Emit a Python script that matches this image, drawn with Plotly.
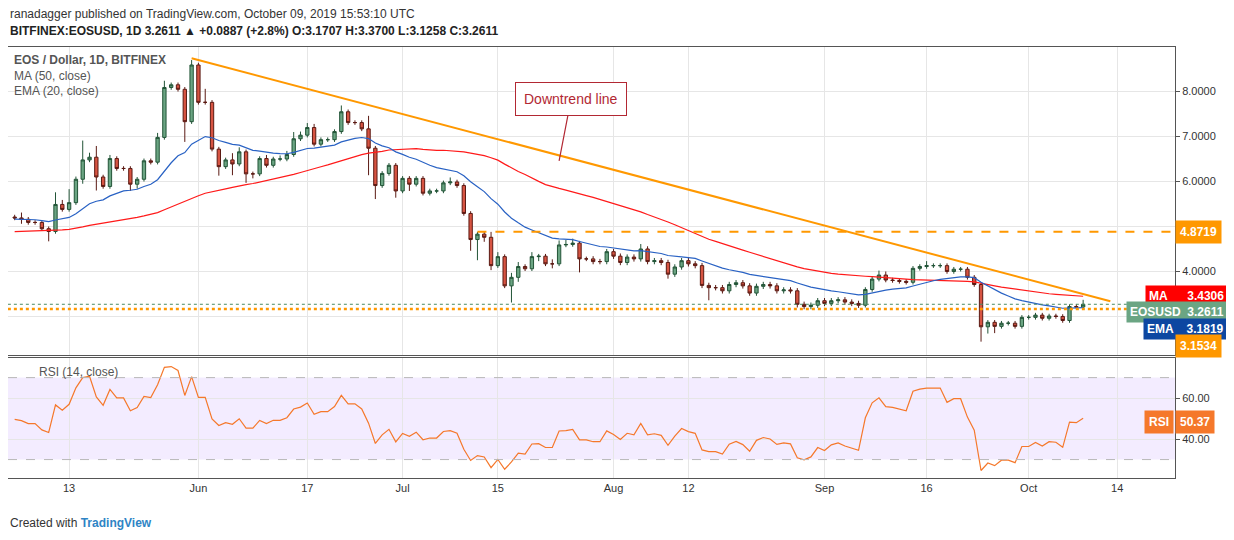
import datetime as dt

import plotly.graph_objects as go
from plotly.subplots import make_subplots

# daily closes, May 5 -> Oct 9 2019
closes = [
    5.18, 5.15, 5.08, 5.08, 4.94, 4.88, 5.48, 5.37, 5.52, 6.04,
    6.47, 6.53, 6.09, 5.88, 6.50, 6.28, 6.28, 5.93, 6.04, 6.45,
    6.42, 6.97, 8.08, 8.14, 8.04, 7.32, 8.58, 7.75, 7.75, 6.71,
    6.32, 6.47, 6.38, 6.65, 6.16, 6.16, 6.50, 6.35, 6.49, 6.49,
    6.59, 6.94, 7.02,
    7.19, 6.82, 6.92, 6.92, 7.10, 7.54, 7.30, 7.30, 7.16, 6.73,
    5.90, 6.17, 6.35, 5.78, 6.06, 5.93, 6.06, 5.73, 5.78, 5.78,
    5.96, 5.98, 5.90, 5.28, 4.70, 4.82, 4.75, 4.12, 4.32, 3.67,
    3.86, 4.10, 4.05, 4.32, 4.33, 4.16, 4.16, 4.58, 4.59, 4.62,
    4.27, 4.27,
    4.21, 4.21, 4.43, 4.33, 4.19, 4.31, 4.27, 4.49, 4.21, 4.23,
    4.19, 3.93, 4.09, 4.23, 4.16, 4.12, 3.68, 3.63, 3.63, 3.56,
    3.70, 3.74, 3.67, 3.51, 3.66, 3.70, 3.67, 3.56, 3.58, 3.56,
    3.26, 3.21, 3.24, 3.34, 3.28, 3.34, 3.36, 3.31, 3.28, 3.24,
    3.59, 3.82, 3.91, 3.80, 3.79, 3.77, 3.75, 4.06, 4.10, 4.12,
    4.12, 4.12, 3.99, 4.04, 4.04, 3.86, 3.70, 2.76, 2.86, 2.77,
    2.84, 2.84, 2.77, 2.97, 2.97, 3.02, 2.95, 3.00, 2.99, 2.90,
    3.21, 3.20, 3.26,
]
first_open = 5.20
upper_wick = [
    .05, .12, .05, .05, .03, .05, .27, .10, .30, .06,
    .43, .10, .25, .05, .08, .05, .05, .05, .05, .05,
    .05, .10, .15, .05, .05, .05, .11, .05, .30, .05,
    .05, .05, .15, .10, .05, .05, .05, .08, .05, .08,
    .08, .15, .08,
    .10, .08, .05, .05, .05, .14, .05, .05, .05, .29,
    .05, .05, .05, .05, .05, .05, .05, .05, .05, .05,
    .05, .10, .05, .05, .05, .05, .05, .12, .10, .05,
    .10, .10, .05, .10, .05, .05, .10, .10, .10, .10,
    .05, .05,
    .06, .06, .06, .06, .06, .06, .06, .11, .06, .06,
    .06, .06, .06, .06, .06, .06, .06, .06, .06, .06,
    .06, .06, .06, .06, .06, .06, .06, .06, .06, .06,
    .06, .06, .06, .06, .06, .06, .06, .06, .06, .06,
    .05, .05, .10, .08, .05, .05, .05, .05, .05, .10,
    .05, .05, .05, .05, .05, .05, .05, .05, .05, .05,
    .05, .05, .05, .05, .05, .05, .05, .05, .05, .05,
    .05, .05, .10,
]
lower_wick = [
    .05, .10, .05, .05, .05, .22, .05, .05, .05, .05,
    .10, .05, .30, .05, .05, .05, .05, .15, .10, .05,
    .05, .05, .05, .05, .05, .45, .05, .05, .05, .05,
    .20, .05, .25, .05, .20, .10, .05, .05, .05, .05,
    .05, .05, .05,
    .05, .05, .05, .05, .05, .05, .05, .05, .05, .60,
    .30, .05, .05, .15, .05, .15, .05, .05, .05, .05,
    .05, .05, .05, .05, .25, .46, .10, .10, .05, .05,
    .37, .10, .05, .05, .10, .05, .10, .05, .05, .05,
    .30, .05,
    .06, .06, .06, .06, .06, .06, .06, .06, .06, .06,
    .06, .10, .06, .06, .06, .06, .06, .28, .06, .06,
    .06, .06, .06, .06, .06, .06, .06, .06, .06, .06,
    .07, .06, .06, .06, .06, .06, .06, .06, .06, .06,
    .05, .05, .05, .05, .05, .05, .05, .05, .05, .05,
    .05, .05, .05, .05, .05, .05, .05, .33, .15, .15,
    .05, .05, .05, .05, .05, .05, .05, .05, .05, .05,
    .05, .05, .05,
]
start_date = dt.date(2019, 5, 5)

ma_seed = 4.87      # MA(50) value at left edge
ema_seed = 5.15     # EMA(20) value at left edge
rsi_seed_gain = 0.10
rsi_seed_loss = 0.10

trend_line_dates = ["2019-05-31", "2019-10-13"]
trend_line_prices = [8.73, 3.33]
resistance_level = 4.8719
support_level = 3.1534
last_price = 3.2611

tick_dates = ["2019-05-13", "2019-06-01", "2019-06-17", "2019-07-01", "2019-07-15",
              "2019-08-01", "2019-08-12", "2019-09-01", "2019-09-16", "2019-10-01",
              "2019-10-14"]
tick_labels = ["13", "Jun", "17", "Jul", "15", "Aug", "12", "Sep", "16", "Oct", "14"]

# ---- derived series ----
dates = [start_date + dt.timedelta(days=i) for i in range(len(closes))]
opens = [first_open] + closes[:-1]
highs = [max(o, c) + w for o, c, w in zip(opens, closes, upper_wick)]
lows = [min(o, c) - w for o, c, w in zip(opens, closes, lower_wick)]

window = [ma_seed] * 49
ma = []
for c in closes:
    window.append(c)
    ma.append(sum(window[-50:]) / 50)

ema = []
prev = ema_seed
for c in closes:
    prev = prev + (c - prev) * 2 / 21
    ema.append(prev)

rsi = []
ag, al = rsi_seed_gain, rsi_seed_loss
prev_c = first_open
for c in closes:
    d = c - prev_c
    ag = (ag * 13 + max(d, 0)) / 14
    al = (al * 13 + max(-d, 0)) / 14
    rsi.append(100 - 100 / (1 + ag / al))
    prev_c = c

fig = make_subplots(rows=2, cols=1, shared_xaxes=True, vertical_spacing=0.007,
                    row_heights=[0.72, 0.28])

fig.add_trace(go.Scatter(x=dates, y=ma, mode="lines", line=dict(color="#ff1a1a", width=1.2),
                         hoverinfo="skip"), row=1, col=1)
fig.add_trace(go.Scatter(x=dates, y=ema, mode="lines", line=dict(color="#2962c4", width=1.2),
                         hoverinfo="skip"), row=1, col=1)
fig.add_trace(go.Candlestick(
    x=dates, open=opens, high=highs, low=lows, close=closes,
    increasing=dict(line=dict(color="#225437", width=1), fillcolor="#6ba583"),
    decreasing=dict(line=dict(color="#5b1a13", width=1), fillcolor="#d75442"),
    whiskerwidth=0,
), row=1, col=1)
fig.add_trace(go.Scatter(x=trend_line_dates, y=trend_line_prices, mode="lines",
                         line=dict(color="#ff9800", width=2), hoverinfo="skip"), row=1, col=1)
fig.add_trace(go.Scatter(x=[dt.date(2019, 7, 12), dt.date(2019, 10, 23)],
                         y=[resistance_level] * 2, mode="lines",
                         line=dict(color="#ff9800", width=2, dash="dash"), hoverinfo="skip"),
              row=1, col=1)
fig.add_trace(go.Scatter(x=[dt.date(2019, 5, 4), dt.date(2019, 10, 23)],
                         y=[support_level] * 2, mode="lines",
                         line=dict(color="#ff9800", width=2.5, dash="dot"), hoverinfo="skip"),
              row=1, col=1)
fig.add_trace(go.Scatter(x=[dt.date(2019, 5, 4), dt.date(2019, 10, 23)],
                         y=[last_price] * 2, mode="lines",
                         line=dict(color="#4a8a63", width=1, dash="dot"), hoverinfo="skip"),
              row=1, col=1)

fig.add_trace(go.Scatter(x=dates, y=rsi, mode="lines", line=dict(color="#f5782b", width=1.2),
                         hoverinfo="skip"), row=2, col=1)

x0, x1 = "2019-05-04 00:30", "2019-10-22 12:00"
fig.add_shape(type="rect", xref="x2", yref="y2", x0=x0, x1=x1, y0=30, y1=70,
              fillcolor="rgba(153,102,255,0.12)", line_width=0, layer="below")
for lvl in (30, 70):
    fig.add_shape(type="line", xref="x2", yref="y2", x0=x0, x1=x1, y0=lvl, y1=lvl,
                  line=dict(color="#b8b8b8", width=1, dash="dash"))

grid = "#e6e6e6"
fig.update_xaxes(type="date", range=[x0, x1], showgrid=True, gridcolor=grid,
                 tickvals=tick_dates, ticktext=tick_labels, rangeslider_visible=False,
                 showline=True, linecolor="#555", mirror=True, ticks="",
                 tickfont=dict(size=11, color="#333"))
fig.update_yaxes(side="right", showgrid=True, gridcolor=grid, showline=True, linecolor="#555",
                 mirror=True, ticks="outside", ticklen=4, tickcolor="#555",
                 tickfont=dict(size=11, color="#333"))
fig.update_yaxes(range=[2.13, 8.98], tickvals=[3, 4, 5, 6, 7, 8], tickformat=".4f", row=1, col=1)
fig.update_yaxes(range=[21, 79.5], tickvals=[40, 60], tickformat=".2f", row=2, col=1)

# right-hand price labels: (text, colour, y position of the box)
named_labels = [
    ("MA      3.4306", "#ff0000", 3.44),
    ("EOSUSD  3.2611", "#6ba583", 3.09),
    ("EMA    3.1819", "#0d47a1", 2.71),
]
value_labels = [
    ("4.8719", "#ff9800", resistance_level),
    ("3.1534", "#ff9800", 2.33),
]
for txt, col, ly in named_labels:
    fig.add_annotation(xref="paper", yref="y", x=1.0, y=ly, text=f"<b>{txt}</b>",
                       showarrow=False, xanchor="right", xshift=53,
                       bgcolor=col, font=dict(color="white", size=12), borderpad=3)
for txt, col, ly in value_labels:
    fig.add_annotation(xref="paper", yref="y", x=1.0, y=ly, text=f"<b>{txt}</b>",
                       showarrow=False, xanchor="left", xshift=0,
                       bgcolor=col, font=dict(color="white", size=12), borderpad=4)
fig.add_annotation(xref="paper", yref="y2", x=1.0, y=48.3, text="<b>50.37</b>", showarrow=False,
                   xanchor="left", xshift=0, bgcolor="#f5782b", font=dict(color="white", size=12),
                   borderpad=4)
fig.add_annotation(xref="paper", yref="y2", x=1.0, y=48.3, text="<b>RSI</b>", showarrow=False,
                   xanchor="right", xshift=-1, bgcolor="#f5782b", font=dict(color="white", size=12),
                   borderpad=4)

fig.add_annotation(x="2019-07-24", y=6.45, ax=12, ay=-62, text="Downtrend line",
                   showarrow=True, arrowhead=0, arrowwidth=1.2, arrowcolor="#b22833",
                   bgcolor="white", bordercolor="#b22833", borderwidth=1, borderpad=8,
                   font=dict(color="#b22833", size=14))

fig.add_annotation(xref="paper", yref="paper", x=0.003, y=1.0, yanchor="top", xanchor="left",
                   yshift=-4, align="left", showarrow=False,
                   text="<b>EOS / Dollar, 1D, BITFINEX</b><br>MA (50, close)<br>EMA (20, close)",
                   font=dict(size=12, color="#555"))
fig.add_annotation(xref="paper", yref="y2", x=0.025, y=77, yanchor="top", xanchor="left",
                   showarrow=False, text="RSI (14, close)", font=dict(size=12, color="#555"))

fig.add_annotation(xref="paper", yref="paper", x=0.0, y=1.097, xanchor="left",
                   showarrow=False,
                   text="ranadagger published on TradingView.com, October 09, 2019 15:53:10 UTC",
                   font=dict(size=12, color="#333"))
fig.add_annotation(xref="paper", yref="paper", x=0.0, y=1.057, xanchor="left", showarrow=False,
                   text="<b>BITFINEX:EOSUSD, 1D 3.2611 ▲ +0.0887 (+2.8%) O:3.1707 H:3.3700 L:3.1258 C:3.2611</b>",
                   font=dict(size=12, color="#222"))
fig.add_annotation(xref="paper", yref="paper", x=0.0, y=-0.125, xanchor="left", showarrow=False,
                   text="Created with <span style='color:#2e84c5'><b>TradingView</b></span>",
                   font=dict(size=12, color="#333"))

fig.update_layout(
    width=1234, height=540, showlegend=False,
    margin=dict(l=0, r=67, t=39, b=70),
    paper_bgcolor="white", plot_bgcolor="white",
    font=dict(family="Liberation Sans, Arial, sans-serif"),
)

fig.write_html("out.html")
